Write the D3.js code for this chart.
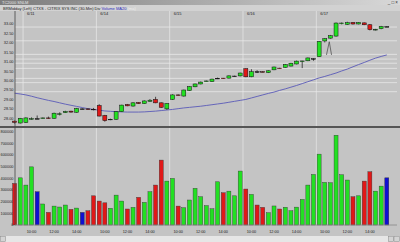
<!DOCTYPE html>
<html>
<head>
<meta charset="utf-8">
<script src="https://cdn.jsdelivr.net/npm/d3@7"></script>
<style>
  body { margin: 0; background: #c4c4c4; }
  svg { display: block; font-family: "Liberation Sans", Arial, sans-serif; }
</style>
</head>
<body>
<div id="vis"></div>
<script>
// Chart data
const DAYS = ["6/10", "6/11", "6/14", "6/15", "6/16", "6/17"];
const SLOTS = ["9:30", "10:00", "10:30", "11:00", "11:30", "12:00", "12:30",
               "13:00", "13:30", "14:00", "14:30", "15:00", "15:30"];
const TIME_TICKS = ["10:00", "12:00", "14:00"];
const PRICE_TICKS = [28, 28.5, 29, 29.5, 30, 30.5, 31, 31.5, 32, 32.5, 33];
const VOL_TICKS = [0, 100000, 200000, 300000, 400000, 500000, 600000, 700000, 800000];

const OPEN = [27.85, 27.75, 27.78, 27.97, 27.98, 28.00, 28.02, 28.00, 28.22, 28.30, 28.38, 28.32, 28.50, 28.50, 28.48,
              28.68, 28.15, 27.93, 27.95, 28.35, 28.73, 28.65, 28.84, 28.78, 28.90, 29.00, 28.82, 28.50,
              29.00, 29.24, 29.18, 29.47, 29.67, 29.82, 29.97, 29.95, 30.12, 30.13, 30.13, 30.24, 30.25,
              30.63, 30.20, 30.47, 30.47, 30.42, 30.57, 30.66, 30.70, 30.77, 30.88, 31.02, 31.05, 31.16,
              31.27, 32.10, 32.25, 32.36, 33.04, 32.98, 33.08, 33.00, 33.06, 32.96, 32.70, 32.75, 32.86];
const HIGH = [27.88, 28.02, 28.05, 28.05, 28.15, 28.04, 28.09, 28.30, 28.32, 28.40, 28.40, 28.55, 28.53, 28.52, 28.55,
              28.75, 28.18, 27.98, 28.38, 28.72, 28.76, 28.85, 28.86, 28.95, 29.02, 29.14, 28.84, 28.80,
              29.27, 29.27, 29.52, 29.70, 29.84, 29.95, 30.00, 30.10, 30.16, 30.14, 30.27, 30.26, 30.42,
              30.65, 30.60, 30.55, 30.50, 30.54, 30.74, 30.68, 30.88, 30.94, 31.06, 31.05, 31.22, 31.18,
              32.10, 32.25, 32.42, 33.08, 33.08, 33.12, 33.10, 33.10, 33.08, 33.00, 32.74, 32.90, 32.88];
const LOW = [27.72, 27.72, 27.75, 27.93, 27.96, 27.98, 27.97, 27.98, 28.15, 28.28, 28.30, 28.30, 28.48, 28.45, 28.42,
             28.10, 27.82, 27.90, 27.92, 28.33, 28.64, 28.62, 28.76, 28.76, 28.88, 28.80, 28.55, 28.45,
             28.98, 29.20, 29.15, 29.45, 29.65, 29.80, 29.95, 29.93, 30.08, 30.09, 30.11, 30.22, 30.22,
             30.18, 30.18, 30.40, 30.44, 30.40, 30.55, 30.63, 30.68, 30.75, 30.86, 30.66, 31.03, 31.05,
             31.25, 32.02, 32.22, 32.33, 32.98, 32.95, 32.97, 32.98, 32.94, 32.66, 32.66, 32.72, 32.84];
const CLOSE = [27.78, 28.00, 28.02, 27.98, 27.98, 28.02, 27.99, 28.27, 28.24, 28.36, 28.33, 28.52, 28.50, 28.48, 28.47,
               28.12, 27.88, 27.95, 28.35, 28.70, 28.66, 28.82, 28.78, 28.92, 28.96, 28.82, 28.58, 28.78,
               29.24, 29.23, 29.50, 29.68, 29.82, 29.92, 29.98, 30.08, 30.12, 30.11, 30.25, 30.24, 30.40,
               30.20, 30.47, 30.47, 30.46, 30.52, 30.72, 30.64, 30.85, 30.92, 31.03, 31.04, 31.20, 31.16,
               32.07, 32.22, 32.38, 33.05, 33.05, 33.07, 33.00, 33.08, 32.96, 32.70, 32.71, 32.87, 32.86];
const MA20 = [29.33, 29.29, 29.24, 29.17, 29.09, 29.02, 28.95, 28.89, 28.82, 28.75, 28.69, 28.63, 28.57, 28.51, 28.47,
              28.43, 28.39, 28.37, 28.35, 28.34, 28.33, 28.33, 28.33, 28.34, 28.36, 28.38, 28.41, 28.44,
              28.47, 28.51, 28.55, 28.58, 28.61, 28.64, 28.68, 28.72, 28.76, 28.80, 28.85, 28.90, 28.95,
              29.00, 29.08, 29.16, 29.24, 29.32, 29.39, 29.48, 29.56, 29.65, 29.74, 29.84, 29.94, 30.04,
              30.14, 30.22, 30.31, 30.40, 30.51, 30.61, 30.73, 30.85, 30.96, 31.08, 31.19, 31.28, 31.36];
const VOLUME = [356000, 404000, 342000, 498000, 285000, 180000, 108000, 162000, 154000, 171000, 134000, 145000, 108000, 122000, 250000,
                205000, 190000, 143000, 256000, 205000, 137000, 151000, 237000, 194000, 285000, 342000, 556000, 376000,
                399000, 162000, 148000, 214000, 314000, 242000, 166000, 139000, 370000, 276000, 290000, 250000, 462000,
                308000, 262000, 171000, 151000, 105000, 163000, 137000, 152000, 122000, 153000, 219000, 342000, 433000,
                607000, 365000, 362000, 769000, 430000, 385000, 242000, 250000, 376000, 456000, 290000, 333000, 404000];
// u = up, d = down, n = unchanged
const VOL_DIR = ["d", "u", "u", "u", "n", "u", "d", "u", "u", "u", "d", "u", "n", "d", "d",
                 "d", "d", "u", "u", "u", "d", "u", "d", "u", "u", "d", "d", "u",
                 "u", "d", "u", "u", "u", "u", "u", "u", "u", "d", "u", "u", "u",
                 "d", "u", "d", "d", "u", "u", "d", "u", "u", "u", "u", "u", "u",
                 "u", "u", "u", "u", "u", "u", "d", "u", "d", "d", "u", "u", "n"];
// hand drawn mark on the chart: [bar index, price]
const SKETCH = [[55.3, 31.36], [55.8, 32.06], [56.2, 31.36]];
// light horizontal lines across the price pane
const LEVELS = [32.84, 32.11, 31.39, 31.14, 30.92, 30.65, 30.12, 29.89, 29.41];

// Frame dimensions
const FRAME_WIDTH = 400;
const FRAME_HEIGHT = 242;
const LEFT = 15;
const RIGHT = 397;
const PRICE_TOP = 11;
const PRICE_BOTTOM = 126;
const VOL_TOP = 128;
const VOL_BOTTOM = 225;

// Bar list: last two bars of 6/10 then full days
const BARS = [];
DAYS.forEach((day, di) => {
  SLOTS.forEach((slot, si) => {
    if (di > 0 || si >= SLOTS.length - 2) BARS.push({day: day, slot: slot});
  });
});

const FRAME = d3.select("#vis")
  .append("svg")
    .attr("width", FRAME_WIDTH)
    .attr("height", FRAME_HEIGHT);

// Scales
const X_SCALE = d3.scaleLinear()
  .domain([0, BARS.length - 1])
  .range([14.6, 386.8]);
const Y_PRICE = d3.scaleLinear()
  .domain([28, 33])
  .range([118.3, 24]);
const Y_VOL = d3.scaleLinear()
  .domain([0, 800000])
  .range([VOL_BOTTOM, 131.6]);

// Background panes
FRAME.append("rect").attr("width", FRAME_WIDTH).attr("height", FRAME_HEIGHT).attr("fill", "#c4c4c4");
FRAME.append("rect").attr("y", 5).attr("width", FRAME_WIDTH).attr("height", 6).attr("fill", "#d2d2d2");

// Title bar
const GRAD = FRAME.append("defs").append("linearGradient").attr("id", "tb");
GRAD.append("stop").attr("offset", "0%").attr("stop-color", "#7c7c7c");
GRAD.append("stop").attr("offset", "100%").attr("stop-color", "#d8d8d8");
FRAME.append("rect").attr("width", FRAME_WIDTH).attr("height", 5).attr("fill", "url(#tb)");
FRAME.append("text").attr("x", 2).attr("y", 4).attr("font-size", 4).attr("fill", "#e8e8e8")
  .text("TC2000 SNLM");
FRAME.append("text").attr("x", 398).attr("y", 4.3).attr("font-size", 4.5).attr("fill", "#333")
  .attr("text-anchor", "end").text("_ □ ×");

// Header line
const HEAD = FRAME.append("text").attr("x", 3).attr("y", 9.6).attr("font-size", 4).attr("fill", "#222");
HEAD.append("tspan").text("BRMidday  (Left)    CTXS - CITRIX SYS INC (30-Min)   Div  ");
HEAD.append("tspan").attr("fill", "#3030c0").text("Volume  MA20");
HEAD.append("tspan").attr("fill", "#eeeeee").text(" (ma)");

// Day separators
const DAY_START = [];
BARS.forEach((b, i) => { if (i > 0 && b.slot === "9:30") DAY_START.push(i); });
FRAME.append("g").selectAll("line").data(DAY_START).enter().append("line")
  .attr("x1", (d) => X_SCALE(d - 0.5)).attr("x2", (d) => X_SCALE(d - 0.5))
  .attr("y1", PRICE_TOP).attr("y2", VOL_BOTTOM)
  .attr("stroke", "#e4e4e4").attr("stroke-width", 0.8);
FRAME.append("g").selectAll("text").data(DAY_START).enter().append("text")
  .attr("x", (d) => X_SCALE(d - 0.5) + 4).attr("y", 14.5)
  .attr("font-size", 4).attr("fill", "#222")
  .text((d) => BARS[d].day);

// Horizontal levels in price pane
FRAME.append("g").selectAll("line").data(LEVELS).enter().append("line")
  .attr("x1", LEFT).attr("x2", RIGHT)
  .attr("y1", (d) => Y_PRICE(d)).attr("y2", (d) => Y_PRICE(d))
  .attr("stroke", "#e8e8e8").attr("stroke-width", 0.8);

// Price axis labels
FRAME.append("g").selectAll("text").data(PRICE_TICKS).enter().append("text")
  .attr("x", 13.5).attr("y", (d) => Y_PRICE(d) + 1.4)
  .attr("text-anchor", "end").attr("font-size", 3.9).attr("fill", "#222")
  .text((d) => d.toFixed(2));

// Volume axis labels
FRAME.append("g").selectAll("text").data(VOL_TICKS).enter().append("text")
  .attr("x", 13.5).attr("y", (d) => Y_VOL(d) + 1.4)
  .attr("text-anchor", "end").attr("font-size", 3.9).attr("fill", "#222")
  .text((d) => d);

// Moving average
FRAME.append("path")
  .datum(MA20)
  .attr("d", d3.line().x((d, i) => X_SCALE(i)).y((d) => Y_PRICE(d)))
  .attr("fill", "none").attr("stroke", "#5a5ab8").attr("stroke-width", 0.9);

// Candles
const CANDLES = FRAME.append("g").selectAll("g").data(CLOSE).enter().append("g");
CANDLES.append("line")
  .attr("x1", (d, i) => X_SCALE(i)).attr("x2", (d, i) => X_SCALE(i))
  .attr("y1", (d, i) => Y_PRICE(HIGH[i])).attr("y2", (d, i) => Y_PRICE(LOW[i]))
  .attr("stroke", "#111").attr("stroke-width", 0.7);
CANDLES.append("rect")
  .attr("x", (d, i) => X_SCALE(i) - 2)
  .attr("y", (d, i) => Y_PRICE(Math.max(OPEN[i], d)))
  .attr("width", 4)
  .attr("height", (d, i) => Math.max(0.6, Math.abs(Y_PRICE(OPEN[i]) - Y_PRICE(d))))
  .attr("fill", (d, i) => d > OPEN[i] ? "#22e022" : d < OPEN[i] ? "#e01818" : "#111")
  .attr("stroke", "#111").attr("stroke-width", 0.5);

// Hand drawn mark
FRAME.append("path")
  .datum(SKETCH)
  .attr("d", d3.line().x((d) => X_SCALE(d[0])).y((d) => Y_PRICE(d[1])))
  .attr("fill", "none").attr("stroke", "#444").attr("stroke-width", 0.7);

// Pane separator
FRAME.append("rect").attr("x", 0).attr("y", PRICE_BOTTOM).attr("width", FRAME_WIDTH).attr("height", 2)
  .attr("fill", "#555");

// Volume bars
const VOL_COLOR = {u: "#22e022", d: "#e01818", n: "#1010d0"};
FRAME.append("g").selectAll("rect").data(VOLUME).enter().append("rect")
  .attr("x", (d, i) => X_SCALE(i) - 2)
  .attr("y", (d) => Y_VOL(d))
  .attr("width", 4)
  .attr("height", (d) => VOL_BOTTOM - Y_VOL(d))
  .attr("fill", (d, i) => VOL_COLOR[VOL_DIR[i]])
  .attr("stroke", "#333").attr("stroke-width", 0.4);

// Axes lines
FRAME.append("line").attr("x1", LEFT).attr("x2", LEFT).attr("y1", PRICE_TOP).attr("y2", VOL_BOTTOM)
  .attr("stroke", "#444").attr("stroke-width", 0.8);
FRAME.append("line").attr("x1", LEFT).attr("x2", RIGHT).attr("y1", VOL_BOTTOM).attr("y2", VOL_BOTTOM)
  .attr("stroke", "#888").attr("stroke-width", 0.8);

// Time labels
const TIME_IDX = [];
BARS.forEach((b, i) => { if (TIME_TICKS.includes(b.slot)) TIME_IDX.push(i); });
FRAME.append("g").selectAll("text").data(TIME_IDX).enter().append("text")
  .attr("x", (d) => X_SCALE(d)).attr("y", 233)
  .attr("text-anchor", "middle").attr("font-size", 3.8).attr("fill", "#222")
  .text((d) => BARS[d].slot);

// Scrollbar
FRAME.append("rect").attr("x", 0).attr("y", 236).attr("width", FRAME_WIDTH).attr("height", 6).attr("fill", "#e6e6e6");
FRAME.append("rect").attr("x", 0.5).attr("y", 236.5).attr("width", 5).attr("height", 5)
  .attr("fill", "#d4d4d4").attr("stroke", "#888").attr("stroke-width", 0.5);
FRAME.append("rect").attr("x", 388.5).attr("y", 236.5).attr("width", 5).attr("height", 5)
  .attr("fill", "#d4d4d4").attr("stroke", "#888").attr("stroke-width", 0.5);
FRAME.append("rect").attr("x", 394).attr("y", 236.5).attr("width", 5.5).attr("height", 5)
  .attr("fill", "#d4d4d4").attr("stroke", "#888").attr("stroke-width", 0.5);
</script>
</body>
</html>
